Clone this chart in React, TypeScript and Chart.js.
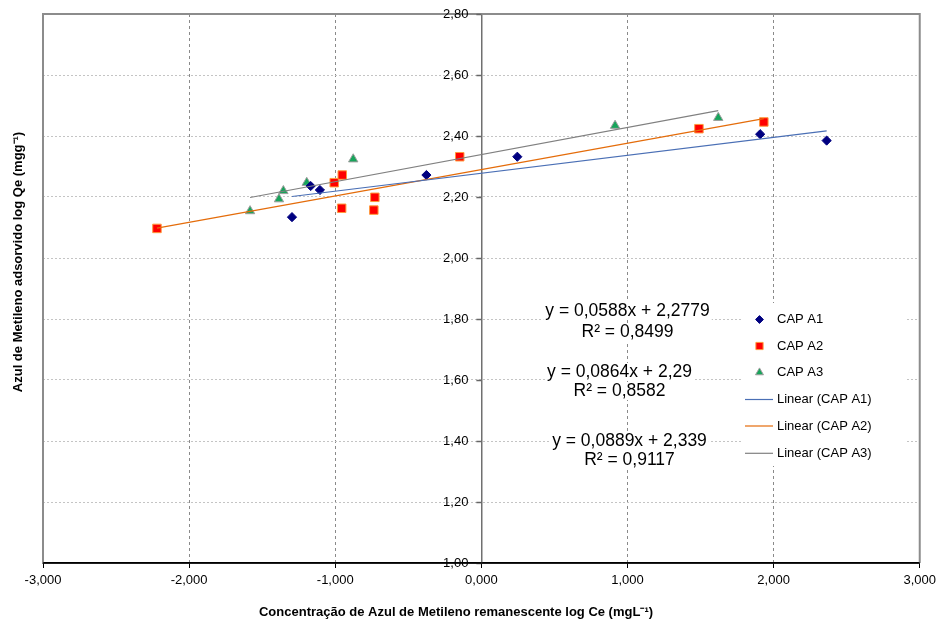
import React, { useEffect, useRef } from 'react';
import { Chart, registerables } from 'chart.js';

Chart.register(...registerables);

// ---- Data ----
const seriesNames = ['CAP A1', 'CAP A2', 'CAP A3'];
const capA1X = [-1.296, -1.168, -1.105, -0.376, 0.246, 1.908, 2.363];
const capA1Y = [2.134, 2.236, 2.223, 2.272, 2.332, 2.406, 2.385];
const capA2X = [-2.22, -1.007, -0.952, -0.956, -0.729, -0.736, -0.148, 1.489, 1.933];
const capA2Y = [2.097, 2.247, 2.272, 2.163, 2.199, 2.157, 2.332, 2.424, 2.446];
const capA3X = [-1.583, -1.385, -1.355, -1.195, -0.877, 0.915, 1.621];
const capA3Y = [2.154, 2.193, 2.22, 2.247, 2.324, 2.434, 2.46];
const trendSlopes = [0.0588, 0.0864, 0.0889];
const trendIntercepts = [2.2779, 2.29, 2.339];
const equationTexts = ['y = 0,0588x + 2,2779', 'y = 0,0864x + 2,29', 'y = 0,0889x + 2,339'];
const r2Texts = ['R² = 0,8499', 'R² = 0,8582', 'R² = 0,9117'];
const xAxisTitle = 'Concentração de Azul de Metileno remanescente log Ce (mgL⁻¹)';
const yAxisTitle = 'Azul de Metileno adsorvido log Qe (mgg⁻¹)';
const X_MIN = -3, X_MAX = 3, X_STEP = 1;
const Y_MIN = 1, Y_MAX = 2.8, Y_STEP = 0.2;

const FONT = '"Liberation Sans", Arial, Helvetica, sans-serif';

const markerStyles = [
  { pointStyle: 'rectRot', radius: 4.6, bg: '#000080', border: '#000080', bw: 1 },
  { pointStyle: 'rect', radius: 6, bg: '#FF0000', border: '#FF9A3C', bw: 1 },
  { pointStyle: 'triangle', radius: 5.4, bg: '#17A55B', border: '#9E9E9E', bw: 1 },
];
const trendColors = ['#4A6FB5', '#E46C0A', '#808080'];

const xs = [capA1X, capA2X, capA3X];
const ys = [capA1Y, capA2Y, capA3Y];

function toPoints(x: number[], y: number[]) {
  return x.map((v, i) => ({ x: v, y: y[i] }));
}

function trendPoints(k: number) {
  const x = xs[k];
  const lo = Math.min(...x);
  const hi = Math.max(...x);
  return [
    { x: lo, y: trendSlopes[k] * lo + trendIntercepts[k] },
    { x: hi, y: trendSlopes[k] * hi + trendIntercepts[k] },
  ];
}

function drawMarker(ctx: CanvasRenderingContext2D, style: string, x: number, y: number, r: number, bg: string, border: string, bw: number) {
  ctx.save();
  ctx.beginPath();
  if (style === 'rectRot') {
    ctx.moveTo(x, y - r);
    ctx.lineTo(x + r, y);
    ctx.lineTo(x, y + r);
    ctx.lineTo(x - r, y);
    ctx.closePath();
  } else if (style === 'rect') {
    const s = r * Math.SQRT1_2;
    ctx.rect(x - s, y - s, 2 * s, 2 * s);
  } else {
    ctx.moveTo(x, y - r);
    ctx.lineTo(x + r * 0.866, y + r * 0.5);
    ctx.lineTo(x - r * 0.866, y + r * 0.5);
    ctx.closePath();
  }
  ctx.fillStyle = bg;
  ctx.fill();
  ctx.lineWidth = bw;
  ctx.strokeStyle = border;
  ctx.stroke();
  ctx.restore();
}

const framePlugin = {
  id: 'frame',
  beforeDatasetsDraw(chart: any) {
    const { ctx, chartArea: a } = chart;
    ctx.save();
    ctx.strokeStyle = '#8C8C8C';
    ctx.lineWidth = 2;
    ctx.beginPath();
    ctx.moveTo(a.left, a.bottom);
    ctx.lineTo(a.left, a.top);
    ctx.lineTo(a.right, a.top);
    ctx.lineTo(a.right, a.bottom);
    ctx.stroke();

    // Y axis labels and tick marks at x = 0
    const xs0 = chart.scales.x.getPixelForValue(0);
    const ysc = chart.scales.y;
    ctx.font = `13px ${FONT}`;
    ctx.textAlign = 'right';
    ctx.textBaseline = 'middle';
    const n = Math.round((Y_MAX - Y_MIN) / Y_STEP);
    for (let i = 0; i <= n; i++) {
      const v = Y_MIN + i * Y_STEP;
      const py = Math.round(ysc.getPixelForValue(v)) + 0.5;
      ctx.strokeStyle = '#666';
      ctx.lineWidth = 1.5;
      ctx.beginPath();
      ctx.moveTo(xs0 - 5, py);
      ctx.lineTo(xs0, py);
      ctx.stroke();
      ctx.fillStyle = '#000';
      ctx.fillText(v.toFixed(2).replace('.', ','), xs0 - 13, py);
    }
    // redraw bottom axis line over the lowest label
    ctx.strokeStyle = '#000';
    ctx.lineWidth = 1.5;
    ctx.beginPath();
    ctx.moveTo(a.left, a.bottom);
    ctx.lineTo(a.right, a.bottom);
    ctx.stroke();
    ctx.restore();
  },
};

const annotationsPlugin = {
  id: 'annotations',
  afterDraw(chart: any) {
    const ctx: CanvasRenderingContext2D = chart.ctx;
    ctx.save();
    // Axis titles
    ctx.fillStyle = '#000';
    ctx.font = `bold 13px ${FONT}`;
    ctx.textAlign = 'center';
    ctx.textBaseline = 'middle';
    ctx.fillText(xAxisTitle, 456, 612);
    ctx.save();
    ctx.translate(18, 262);
    ctx.rotate(-Math.PI / 2);
    ctx.fillText(yAxisTitle, 0, 0);
    ctx.restore();

    // Regression equations
    const eqPos = [
      { x: 627.5, y1: 311, y2: 332 },
      { x: 619.5, y1: 372, y2: 391 },
      { x: 629.5, y1: 441.5, y2: 460.5 },
    ];
    ctx.font = `17.5px ${FONT}`;
    eqPos.forEach((p, k) => {
      [[equationTexts[k], p.y1], [r2Texts[k], p.y2]].forEach(([t, y]) => {
        const w = ctx.measureText(t as string).width;
        ctx.fillStyle = '#fff';
        ctx.fillRect(p.x - w / 2 - 2, (y as number) - 9, w + 4, 18);
        ctx.fillStyle = '#000';
        ctx.fillText(t as string, p.x, y as number);
      });
    });

    // Legend
    ctx.fillStyle = '#fff';
    ctx.fillRect(742, 303, 163, 163);
    const rows = [319.5, 346, 372.5, 399.5, 426, 453.3];
    ctx.font = `13px ${FONT}`;
    ctx.textAlign = 'left';
    for (let k = 0; k < 3; k++) {
      const m = markerStyles[k];
      drawMarker(ctx, m.pointStyle, 759.5, rows[k], m.radius * 0.85, m.bg, m.border, m.bw);
      ctx.fillStyle = '#000';
      ctx.fillText(seriesNames[k], 777, rows[k]);
    }
    for (let k = 0; k < 3; k++) {
      const y = rows[k + 3];
      ctx.strokeStyle = trendColors[k];
      ctx.lineWidth = 1.2;
      ctx.beginPath();
      ctx.moveTo(745, y);
      ctx.lineTo(773, y);
      ctx.stroke();
      ctx.fillStyle = '#000';
      ctx.fillText(`Linear (${seriesNames[k]})`, 777, y);
    }
    ctx.restore();
  },
};

export default function App() {
  const ref = useRef<HTMLCanvasElement | null>(null);

  useEffect(() => {
    document.body.style.margin = '0';
    const canvas = ref.current;
    if (!canvas) return;

    const datasets: any[] = [];
    for (let k = 0; k < 3; k++) {
      datasets.push({
        type: 'scatter',
        label: `Linear (${seriesNames[k]})`,
        data: trendPoints(k),
        showLine: true,
        borderColor: trendColors[k],
        borderWidth: 1.2,
        pointRadius: 0,
        order: 0,
      });
    }
    for (let k = 0; k < 3; k++) {
      const m = markerStyles[k];
      datasets.push({
        type: 'scatter',
        label: seriesNames[k],
        data: toPoints(xs[k], ys[k]),
        pointStyle: m.pointStyle,
        pointRadius: m.radius,
        pointBackgroundColor: m.bg,
        pointBorderColor: m.border,
        pointBorderWidth: m.bw,
        showLine: false,
        order: 1,
      });
    }

    const chart = new Chart(canvas, {
      type: 'scatter',
      data: { datasets },
      options: {
        animation: false,
        responsive: false,
        maintainAspectRatio: false,
        devicePixelRatio: 1,
        layout: { padding: { left: 43, right: 20, top: 14, bottom: 0 } },
        font: { family: FONT },
        plugins: {
          legend: { display: false },
          tooltip: { enabled: false },
          title: { display: false },
        },
        scales: {
          x: {
            type: 'linear',
            min: X_MIN,
            max: X_MAX,
            afterFit: (s: any) => { s.height = 61; },
            ticks: {
              stepSize: X_STEP,
              color: '#000',
              padding: 5,
              font: { family: FONT, size: 13 },
              callback: (v: any) => Number(v).toFixed(3).replace('.', ','),
            },
            grid: {
              color: (c: any) => {
                const v = c.tick ? c.tick.value : 0;
                return Math.abs(v) < 1e-9 || Math.abs(Math.abs(v) - 3) < 1e-9 ? 'rgba(0,0,0,0)' : '#8A8A8A';
              },
              lineWidth: 1,
              tickLength: 5,
              tickColor: '#000',
            },
            border: { display: true, color: '#000', width: 1.5, dash: [3, 3] },
          },
          y: {
            type: 'linear',
            position: { x: 0 } as any,
            min: Y_MIN,
            max: Y_MAX,
            ticks: {
              stepSize: Y_STEP,
              display: false,
            },
            grid: {
              color: (c: any) => {
                const v = c.tick ? c.tick.value : 0;
                return Math.abs(v - Y_MIN) < 1e-6 || Math.abs(v - Y_MAX) < 1e-6 ? 'rgba(0,0,0,0)' : '#C4C4C4';
              },
              lineWidth: 1,
              drawTicks: false,
            },
            border: { display: true, color: '#707070', width: 1.5, dash: [2, 2] },
          },
        },
      } as any,
      plugins: [framePlugin, annotationsPlugin],
    });

    return () => chart.destroy();
  }, []);

  return (
    <div style={{ width: 941, height: 624, overflow: 'hidden' }}>
      <canvas ref={ref} width={941} height={624} style={{ display: 'block', width: 941, height: 624 }} />
    </div>
  );
}
